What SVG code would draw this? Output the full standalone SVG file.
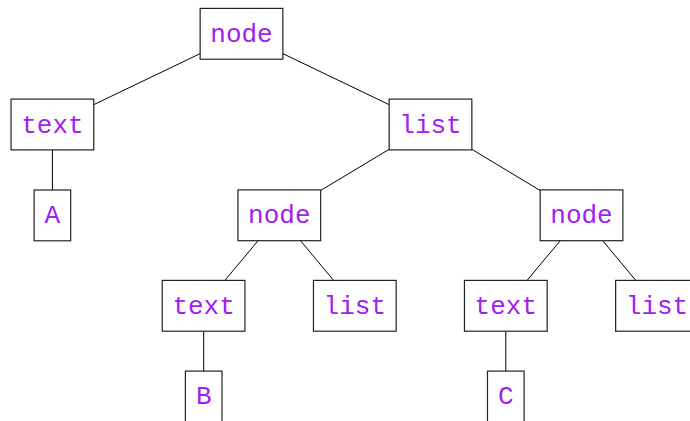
<svg xmlns="http://www.w3.org/2000/svg" width="690" height="421" viewBox="0 0 690 421">
<style>
.b{fill:#fff;stroke:#222;stroke-width:1.2}
.t{font-family:"Liberation Mono","DejaVu Sans Mono",monospace;font-size:26px;fill:#a020f0;text-anchor:middle}
.e line{stroke:#000;stroke-width:1}
</style>
<rect width="690" height="421" fill="#fff"/>
<g class="e" id="connectors">
<line x1="200.15" y1="53.63" x2="93.75" y2="104.67"/>
<line x1="282.85" y1="53.64" x2="389.15" y2="104.66"/>
<line x1="52.4" y1="149.9" x2="52.4" y2="190"/>
<line x1="389.15" y1="149.33" x2="320.65" y2="190.47"/>
<line x1="471.85" y1="149.33" x2="540.15" y2="190.47"/>
<line x1="258.05" y1="240.7" x2="224.85" y2="280.4"/>
<line x1="300.5" y1="240.7" x2="333.6" y2="280.4"/>
<line x1="203.7" y1="331.2" x2="203.7" y2="371.1"/>
<line x1="560.25" y1="240.7" x2="527.05" y2="280.4"/>
<line x1="602.7" y1="240.7" x2="635.8" y2="280.4"/>
<line x1="505.8" y1="331.2" x2="505.8" y2="371.1"/>
</g>
<g id="root"><rect class="b" x="200.15" y="8.4" width="82.7" height="50.8"/><text class="t" x="241.5" y="41.8">node</text></g>
<g id="text1"><rect class="b" x="11.05" y="99.1" width="82.7" height="50.8"/><text class="t" x="52.4" y="132.5">text</text></g>
<g id="A"><rect class="b" x="34.1" y="190" width="36.6" height="50.8"/><text class="t" x="52.4" y="223.3">A</text></g>
<g id="list1"><rect class="b" x="389.15" y="99.1" width="82.7" height="50.8"/><text class="t" x="430.5" y="132.5">list</text></g>
<g id="node2"><rect class="b" x="237.95" y="189.9" width="82.7" height="50.8"/><text class="t" x="279.3" y="223.3">node</text></g>
<g id="node3"><rect class="b" x="540.15" y="189.9" width="82.7" height="50.8"/><text class="t" x="581.5" y="223.3">node</text></g>
<g id="text2"><rect class="b" x="162.25" y="280.4" width="82.7" height="50.8"/><text class="t" x="203.6" y="313.8">text</text></g>
<g id="list2"><rect class="b" x="313.45" y="280.4" width="82.7" height="50.8"/><text class="t" x="354.8" y="313.8">list</text></g>
<g id="text3"><rect class="b" x="464.45" y="280.4" width="82.7" height="50.8"/><text class="t" x="505.8" y="313.8">text</text></g>
<g id="list3"><rect class="b" x="615.65" y="280.4" width="82.7" height="50.8"/><text class="t" x="657" y="313.8">list</text></g>
<g id="B"><rect class="b" x="185.4" y="371.1" width="36.6" height="50.8"/><text class="t" x="203.7" y="404.4">B</text></g>
<g id="C"><rect class="b" x="487.5" y="371.1" width="36.6" height="50.8"/><text class="t" x="505.8" y="404.4">C</text></g>
</svg>
